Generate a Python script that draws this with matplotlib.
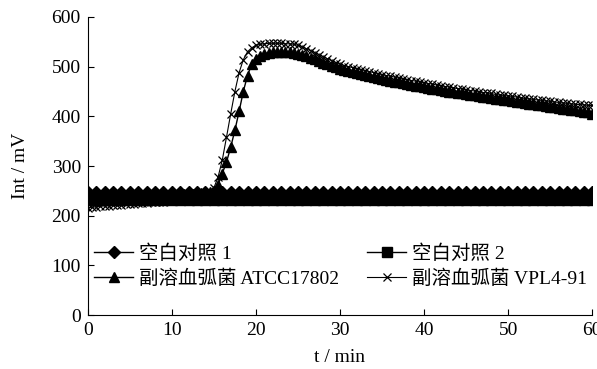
import numpy as np
import matplotlib
matplotlib.use('Agg')
import matplotlib.pyplot as plt

plt.rcParams['font.family'] = ['Liberation Serif', 'Noto Sans CJK SC']
plt.rcParams['font.size'] = 14

# time grids (min)
t_ctrl = np.arange(0, 61, 1.0)
t_bact = np.arange(0, 60.5, 0.5)

blank1 = [248, 248, 248, 248, 248, 248, 248, 248, 248, 248,
          248, 248, 248, 248, 248, 248, 248, 248, 248, 248,
          248, 248, 248, 248, 248, 248, 248, 248, 248, 248,
          248, 248, 248, 248, 248, 248, 248, 248, 248, 248,
          248, 248, 248, 248, 248, 248, 248, 248, 248, 248,
          248, 248, 248, 248, 248, 248, 248, 248, 248, 248, 248]
blank2 = [231, 231, 231, 231, 231, 231, 231, 231, 231, 231,
          231, 231, 231, 231, 231, 231, 231, 231, 231, 231,
          231, 231, 231, 231, 231, 231, 231, 231, 231, 231,
          231, 231, 231, 231, 231, 231, 231, 231, 231, 231,
          231, 231, 231, 231, 231, 231, 231, 231, 231, 231,
          231, 231, 231, 231, 231, 231, 231, 231, 231, 231, 231]

atcc = [240, 240, 241, 240, 241, 241, 240, 241, 241, 242,
        241, 242, 241, 242, 242, 241, 242, 242, 243, 242,
        243, 242, 243, 243, 244, 244, 245, 245, 246, 247,
        250, 262, 285, 308, 338, 372, 410, 450, 482, 505,
        516, 522, 526, 528, 529, 530, 530, 530, 529, 528,
        526, 524, 521, 518, 515, 512, 508, 505, 502, 499,
        496, 494, 492, 490, 488, 486, 484, 482, 480, 478,
        476, 474, 472, 470, 469, 467, 465, 464, 462, 461,
        459, 458, 456, 455, 453, 452, 450, 449, 447, 446,
        445, 443, 442, 441, 439, 438, 437, 435, 434, 433,
        432, 430, 429, 428, 427, 425, 424, 423, 422, 420,
        419, 418, 417, 415, 414, 413, 412, 410, 409, 408,
        405]
vpl = [216, 217, 218, 219, 220, 220, 221, 222, 222, 223,
       224, 224, 225, 226, 226, 227, 227, 228, 228, 229,
       230, 230, 231, 232, 233, 234, 236, 238, 241, 246,
       256, 278, 312, 358, 405, 450, 488, 514, 530, 538,
       543, 545, 546, 547, 547, 547, 547, 546, 546, 545,
       543, 540, 536, 532, 528, 524, 520, 516, 512, 508,
       505, 502, 500, 498, 496, 494, 492, 490, 488, 486,
       484, 482, 481, 479, 477, 475, 474, 472, 471, 469,
       468, 466, 465, 463, 462, 460, 459, 457, 456, 455,
       453, 452, 451, 449, 448, 447, 446, 444, 443, 442,
       441, 440, 439, 437, 436, 435, 434, 433, 432, 431,
       430, 429, 428, 427, 426, 425, 424, 424, 423, 422,
       422]

fig = plt.figure(figsize=(5.97, 3.69), dpi=100)
ax = fig.add_axes([0.147, 0.146, 0.845, 0.808])

h1, = ax.plot(t_ctrl, blank1, '-D', color='k', ms=6.5, lw=1, label='空白对照 1')
h2, = ax.plot(t_ctrl, blank2, '-s', color='k', ms=6.5, lw=1, label='空白对照 2')
h3, = ax.plot(t_bact, atcc, '-^', color='k', ms=6.5, lw=1, label='副溶血弧菌 ATCC17802')
h4, = ax.plot(t_bact, vpl, '-x', color='k', ms=6, lw=0.8, mew=0.9, label='副溶血弧菌 VPL4-91')

ax.set_xlim(0, 60)
ax.set_ylim(0, 600)
ax.set_xticks(range(0, 61, 10))
ax.set_yticks(range(0, 601, 100))
ax.tick_params(direction='in', length=4, width=0.8, pad=5)
for s in ['top', 'right']:
    ax.spines[s].set_visible(False)
ax.set_xlabel('t / min', labelpad=7)
ax.set_ylabel('Int / mV', labelpad=16)

# row-wise order: blank1 | blank2 / atcc | vpl
ax.legend([h1, h3, h2, h4], [h1.get_label(), h3.get_label(), h2.get_label(), h4.get_label()],
          ncol=2, loc='center left', bbox_to_anchor=(0.0, 0.164), frameon=False,
          handlelength=2.05, handletextpad=0.3, columnspacing=1.4,
          labelspacing=0.35, borderaxespad=0, borderpad=0.3)

fig.savefig('out.png', dpi=100)
